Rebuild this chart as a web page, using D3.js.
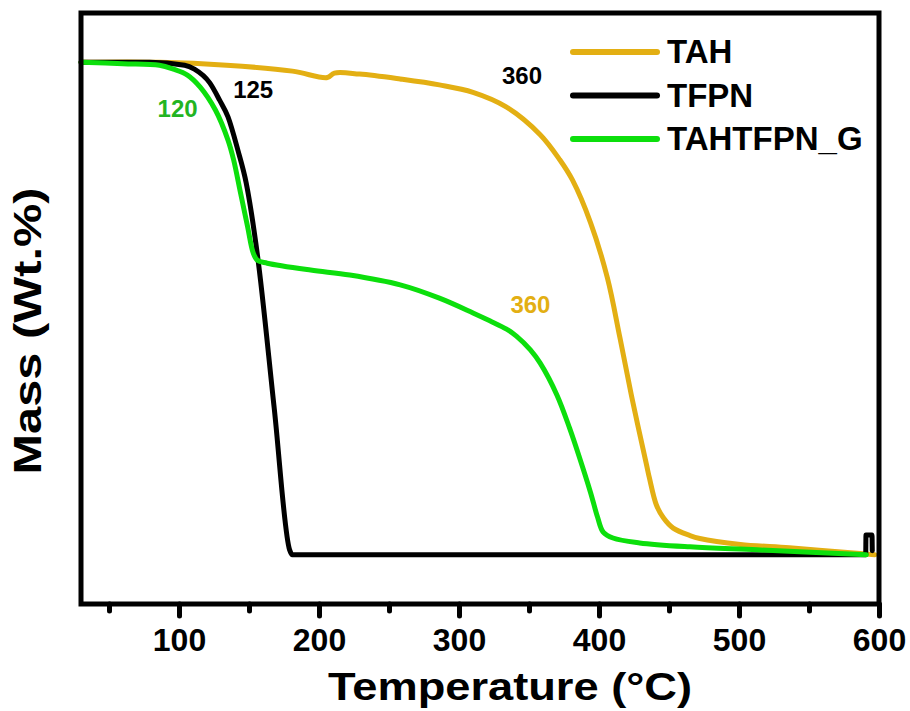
<!DOCTYPE html>
<html>
<head>
<meta charset="utf-8">
<script src="https://cdn.jsdelivr.net/npm/d3@7"></script>
<style>
  html, body { margin: 0; padding: 0; background: #ffffff; }
  svg { display: block; font-family: Arial, "Liberation Sans", sans-serif; }
</style>
</head>
<body>
<svg id="chart" width="910" height="711"></svg>
<script>
// ---- data (temperature in °C, mass in wt.%) ----
const seriesNames = ["TAH", "TFPN", "TAHTFPN_G"];
const seriesColors = ["#E3AF13", "#000000", "#0CDF0C"];

const tahTemp = [30, 86, 134, 181, 206, 211, 229, 258, 286, 310, 334, 358, 372, 381, 394, 406, 415, 424, 434, 436, 441, 446, 453, 465, 472, 501, 536, 591, 597];
const tahMass = [100, 100, 99.4, 98.2, 96.9, 97.8, 97.6, 96.6, 95.4, 93.9, 90.9, 85.3, 80.2, 76.1, 67.4, 56.2, 44.0, 31.2, 18.2, 15.6, 10.1, 7.5, 5.4, 3.9, 3.3, 2.1, 1.4, 0.15, 0];

const tfpnTemp = [30, 79, 104, 111, 122, 129, 135, 142, 148, 156, 168, 179, 181, 590.5, 590.7, 595, 595.2];
const tfpnMass = [100, 100, 99.4, 98.6, 95.8, 92.3, 88.9, 82.2, 75.5, 60.9, 29.8, 1.0, 0, 0, 4.0, 4.0, 0.8];

const gTemp = [30, 60, 86, 96, 106, 115, 126, 135, 139, 144, 149, 153, 156, 163, 194, 222, 258, 286, 310, 322, 334, 341, 351, 358, 370, 379, 386, 394, 399, 403, 410, 429, 465, 513, 591];
const gMass = [100, 99.7, 99.4, 98.6, 97.4, 95.0, 90.3, 84.2, 80.2, 73.4, 66.6, 61.3, 59.8, 59.2, 57.8, 56.8, 54.8, 52.1, 49.1, 47.5, 45.8, 44.4, 41.6, 38.9, 32.4, 25.7, 19.8, 12.6, 7.6, 4.6, 3.4, 2.4, 1.6, 1.0, 0];

const majorTicks = [100, 200, 300, 400, 500, 600];
const minorTicks = [50, 150, 250, 350, 450, 550];

const annoText = ["125", "120", "360", "360"];
const annoTemp = [153, 99, 345, 351];
const annoMass = [92.7, 88.9, 95.6, 49.1];
const annoColors = ["#000000", "#22B422", "#000000", "#E3AF13"];

const xTitle = "Temperature (\u00B0C)";
const yTitle = "Mass (Wt.%)";

// ---- layout ----
const svg = d3.select("#chart");
const L = 81, R = 879, T = 13, B = 604;
const x = d3.scaleLinear().domain([30, 600]).range([L, R]);
const y = d3.scaleLinear().domain([-10, 110]).range([B, T]);

svg.append("rect").attr("width", 910).attr("height", 711).attr("fill", "#ffffff");

// ticks
const minorAxis = d3.axisBottom(x).tickValues(minorTicks).tickSize(7).tickFormat("");
const majorAxis = d3.axisBottom(x).tickValues(majorTicks).tickSize(12).tickFormat(d3.format("d"));

const gMinor = svg.append("g").attr("transform", `translate(0,${B})`).call(minorAxis);
const gMajor = svg.append("g").attr("transform", `translate(0,${B})`).call(majorAxis);
[gMinor, gMajor].forEach(g => {
  g.select(".domain").remove();
  g.selectAll("line").attr("stroke", "#000").attr("stroke-width", 5).attr("stroke-linecap", "round");
});
gMajor.selectAll("text")
  .attr("y", 47).attr("dy", null)
  .attr("fill", "#000")
  .style("font-size", "32px").style("font-weight", "bold")
  .style("font-family", "Arial, 'Liberation Sans', sans-serif");

// curves
const smooth = d3.curveCatmullRom.alpha(0.5);
const series = [
  {name: seriesNames[0], color: seriesColors[0], curve: smooth, pts: tahTemp.map((t, i) => [t, tahMass[i]])},
  {name: seriesNames[1], color: seriesColors[1], curve: d3.curveMonotoneX, pts: tfpnTemp.map((t, i) => [t, tfpnMass[i]])},
  {name: seriesNames[2], color: seriesColors[2], curve: smooth, pts: gTemp.map((t, i) => [t, gMass[i]])}
];

svg.append("g").selectAll("path").data(series).join("path")
  .attr("d", d => d3.line().x(p => x(p[0])).y(p => y(p[1])).curve(d.curve)(d.pts))
  .attr("fill", "none")
  .attr("stroke", d => d.color)
  .attr("stroke-width", 5)
  .attr("stroke-linejoin", "round")
  .attr("stroke-linecap", "round");

// frame
svg.append("rect")
  .attr("x", L).attr("y", T).attr("width", R - L).attr("height", B - T)
  .attr("fill", "none").attr("stroke", "#000").attr("stroke-width", 5);

// annotations
svg.append("g").selectAll("text").data(annoText).join("text")
  .attr("x", (d, i) => x(annoTemp[i]))
  .attr("y", (d, i) => y(annoMass[i]))
  .attr("text-anchor", "middle")
  .attr("fill", (d, i) => annoColors[i])
  .style("font-size", "24px").style("font-weight", "bold")
  .text(d => d);

// legend
const leg = svg.append("g").attr("transform", "translate(573,52)");
const li = leg.selectAll("g").data(series).join("g")
  .attr("transform", (d, i) => `translate(0,${i * 43.5})`);
li.append("line").attr("x1", 0).attr("x2", 84).attr("y1", 0).attr("y2", 0)
  .attr("stroke", d => d.color).attr("stroke-width", 6).attr("stroke-linecap", "round");
li.append("text").attr("x", 94).attr("y", 11)
  .attr("fill", "#000")
  .style("font-size", "33px").style("font-weight", "bold")
  .text(d => d.name);

// axis titles
svg.append("text")
  .attr("x", 510).attr("y", 700)
  .attr("text-anchor", "middle")
  .attr("textLength", 364).attr("lengthAdjust", "spacingAndGlyphs")
  .style("font-size", "38px").style("font-weight", "bold")
  .text(xTitle);

svg.append("text")
  .attr("transform", "translate(41,331) rotate(-90)")
  .attr("text-anchor", "middle")
  .attr("textLength", 287).attr("lengthAdjust", "spacingAndGlyphs")
  .style("font-size", "38px").style("font-weight", "bold")
  .text(yTitle);
</script>
</body>
</html>
